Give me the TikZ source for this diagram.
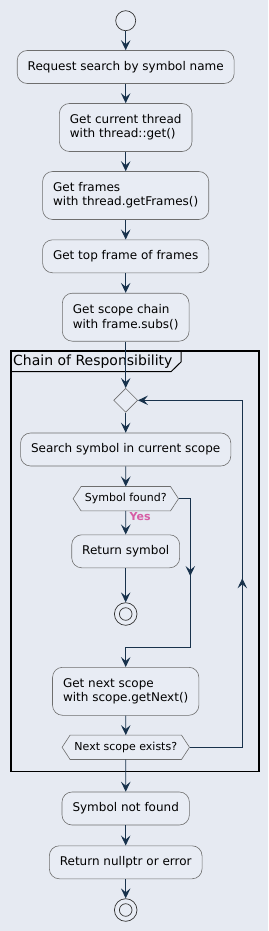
\documentclass[tikz,border=0pt]{standalone}
\usepackage{fontspec}
\setmainfont{DejaVu Sans}
\usetikzlibrary{arrows.meta,calc,shapes.geometric}
\definecolor{bg}{RGB}{230,234,242}
\definecolor{boxfill}{RGB}{232,236,244}
\definecolor{boxgray}{RGB}{110,110,110}
\definecolor{navy}{RGB}{24,50,76}
\definecolor{yespink}{RGB}{214,92,164}
\begin{document}
\begin{tikzpicture}[x=1pt,y=-1pt,
  act/.style={draw=boxgray, line width=0.6pt, fill=boxfill, rounded corners=10pt,
    inner xsep=10.5pt, inner ysep=0pt, font=\fontsize{12}{14.3}\selectfont, align=left},
  oneline/.style={act, minimum height=33pt},
  twoline/.style={act, minimum height=48pt},
  hexlabel/.style={inner sep=0pt, font=\fontsize{11}{13}\selectfont, minimum height=24pt},
  hexline/.style={draw=boxgray, line width=0.6pt, fill=boxfill},
  mergenode/.style={draw=boxgray, line width=0.6pt, fill=boxfill, diamond, minimum size=24pt, inner sep=0pt},
  startnode/.style={circle, draw=black!80, line width=0.7pt, fill=boxfill, minimum size=20pt, inner sep=0pt},
  stopnode/.style={circle, draw=black!80, line width=0.7pt, fill=boxfill, minimum size=22.6pt, inner sep=0pt,
    path picture={\draw[black!80, line width=0.7pt] (path picture bounding box.center) circle (6.3pt);}},
  flow/.style={draw=navy, line width=0.9pt, -{Stealth[length=10pt,width=9.5pt,inset=4pt]}},
  framebox/.style={draw=black, line width=1.6pt, inner sep=0pt},
  framelabel/.style={font=\fontsize{14}{16}\selectfont, inner sep=0pt, anchor=west},
  yeslabel/.style={font=\bfseries\fontsize{11}{13}\selectfont, text=yespink, inner sep=0pt, anchor=west}
]
\useasboundingbox[fill=bg] (0,0) rectangle (268,931);

% frame
\node[framebox, minimum width=248pt, minimum height=420.3pt] (frame) at (135,561.15) {};
\draw[black, line width=1pt] (11,371.7) -- (171,371.7) -- (181,362) -- (181,351);
\node[framelabel] (frametitle) at (13,361.5) {Chain of Responsibility};

% nodes
\node[startnode] (start) at (125.7,20.7) {};
\node[oneline] (b1) at (125.7,67) {Request search by symbol name};
\node[twoline] (b2) at (125.7,127.5) {Get current thread\\with thread::get()};
\node[twoline] (b3) at (125.7,195.5) {Get frames\\with thread.getFrames()};
\node[oneline] (b4) at (125.7,256.3) {Get top frame of frames};
\node[twoline] (b5) at (125.7,317.2) {Get scope chain\\with frame.subs()};
\node[mergenode] (merge) at (125.7,400.3) {};
\node[oneline] (b6) at (125.7,449.5) {Search symbol in current scope};

\node[hexlabel, minimum width=105pt] (hex1) at (125.8,498.7) {};
\draw[hexline] (hex1.west) -- ([xshift=8pt]hex1.north west) -- ([xshift=-8pt]hex1.north east)
  -- (hex1.east) -- ([xshift=-8pt]hex1.south east) -- ([xshift=8pt]hex1.south west) -- cycle;
\node[hexlabel] (hex1text) at (hex1.center) {Symbol found?};

\node[oneline] (b7) at (125.7,551.3) {Return symbol};
\node[stopnode] (end1) at (125.7,614) {};
\node[twoline] (b8) at (125.7,691.3) {Get next scope\\with scope.getNext()};

\node[hexlabel, minimum width=127pt] (hex2) at (125.8,747.3) {};
\draw[hexline] (hex2.west) -- ([xshift=8pt]hex2.north west) -- ([xshift=-8pt]hex2.north east)
  -- (hex2.east) -- ([xshift=-8pt]hex2.south east) -- ([xshift=8pt]hex2.south west) -- cycle;
\node[hexlabel] (hex2text) at (hex2.center) {Next scope exists?};

\node[oneline] (b9) at (125.7,808.5) {Symbol not found};
\node[oneline] (b10) at (125.7,862.3) {Return nullptr or error};
\node[stopnode] (end2) at (125.7,910) {};

% connectors
\draw[flow] (start) -- (b1);
\draw[flow] (b1) -- (b2);
\draw[flow] (b2) -- (b3);
\draw[flow] (b3) -- (b4);
\draw[flow] (b4) -- (b5);
\draw[flow] (b5) -- (merge);
\draw[flow] (merge) -- (b6);
\draw[flow] (b6) -- (hex1);
\draw[flow] (hex1) -- (b7);
\node[yeslabel] (yes) at (129.5,516.5) {Yes};
\draw[flow] (b7) -- (end1);

\coordinate (n1) at (190.3,498.7);
\coordinate (m1) at (190.3,576);
\coordinate (n2) at (190.3,647.3);
\coordinate (n3) at (125.7,647.3);
\draw[flow] (hex1.east) -- (n1) -- (n2) -- (n3) -- (b8.north);
\draw[flow] (n1) -- (m1);

\draw[flow] (b8) -- (hex2);

\coordinate (l1) at (242.3,747.3);
\coordinate (m2) at (242.3,578.3);
\coordinate (l2) at (242.3,400.3);
\draw[flow] (hex2.east) -- (l1) -- (l2) -- (merge.east);
\draw[flow] (l1) -- (m2);

\draw[flow] (hex2) -- (b9);
\draw[flow] (b9) -- (b10);
\draw[flow] (b10) -- (end2);
\end{tikzpicture}
\end{document}
